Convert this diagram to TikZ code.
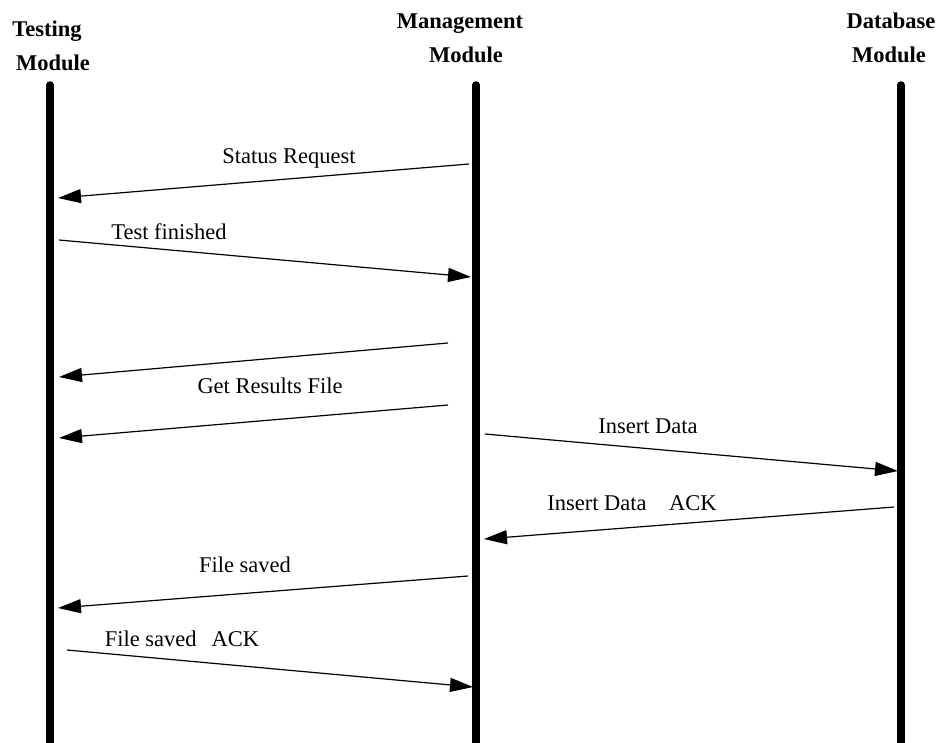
\documentclass[tikz,border=0pt]{standalone}
\usepackage{fontspec}
\setmainfont{Liberation Serif}
\usetikzlibrary{arrows.meta}
\begin{document}
\begin{tikzpicture}[x=1pt,y=-1pt,
  lifeline/.style={line width=7.5pt,line cap=round},
  msg/.style={line width=1.2pt,-{Triangle[length=23pt,width=14pt]}},
  lbl/.style={anchor=base,inner sep=0pt,font=\fontsize{22.5}{27}\selectfont},
  head/.style={anchor=base,inner sep=0pt,font=\fontsize{22.5}{27}\selectfont\bfseries}]
\useasboundingbox (0,0) rectangle (939,742);

% module headings
\node[head] (th1) at (47,36) {Testing};
\node[head] (th2) at (53,70) {Module};
\node[head] (mh1) at (460,28) {Management};
\node[head] (mh2) at (466,62) {Module};
\node[head] (dh1) at (891,28) {Database};
\node[head] (dh2) at (889,62) {Module};

% lifelines
\coordinate (tTop) at (50,85);  \coordinate (tBot) at (50,750);
\coordinate (mTop) at (476,85); \coordinate (mBot) at (476,750);
\coordinate (dTop) at (901,85); \coordinate (dBot) at (901,750);
\draw[lifeline] (tTop) -- (tBot);
\draw[lifeline] (mTop) -- (mBot);
\draw[lifeline] (dTop) -- (dBot);

% message end points
\coordinate (m1s) at (469,164); \coordinate (m1e) at (58,198);
\coordinate (m2s) at (59,240);  \coordinate (m2e) at (471,277);
\coordinate (m3s) at (448,343); \coordinate (m3e) at (59,377);
\coordinate (m4s) at (448,405); \coordinate (m4e) at (59,438);
\coordinate (m5s) at (485,434); \coordinate (m5e) at (898,471);
\coordinate (m6s) at (894,507); \coordinate (m6e) at (484,539);
\coordinate (m7s) at (468,576); \coordinate (m7e) at (58,608);
\coordinate (m8s) at (67,650);  \coordinate (m8e) at (473,687);

% messages
\draw[msg] (m1s) -- (m1e);
\draw[msg] (m2s) -- (m2e);
\draw[msg] (m3s) -- (m3e);
\draw[msg] (m4s) -- (m4e);
\draw[msg] (m5s) -- (m5e);
\draw[msg] (m6s) -- (m6e);
\draw[msg] (m7s) -- (m7e);
\draw[msg] (m8s) -- (m8e);

% message labels
\node[lbl] (l1) at (289,163) {Status Request};
\node[lbl] (l2) at (169,239) {Test finished};
\node[lbl] (l4) at (270,393) {Get Results File};
\node[lbl] (l5) at (648,433) {Insert Data};
\node[lbl] (l6) at (632,510) {Insert Data\hspace{1em}ACK};
\node[lbl] (l7) at (245,572) {File saved};
\node[lbl] (l8) at (182,646) {File saved\hspace{0.67em}ACK};
\end{tikzpicture}
\end{document}
